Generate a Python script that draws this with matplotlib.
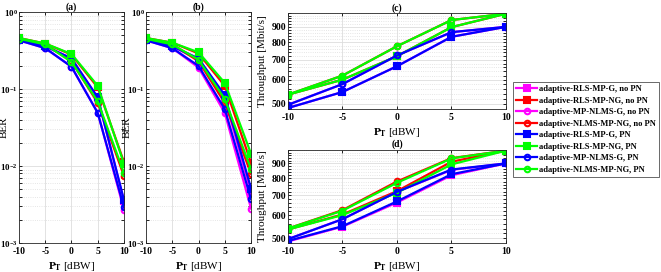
import matplotlib
matplotlib.use('Agg')
import matplotlib.pyplot as plt
from matplotlib.ticker import FixedLocator, NullFormatter

plt.rcParams['font.family'] = 'Liberation Serif'
plt.rcParams['font.weight'] = 'bold'
plt.rcParams['mathtext.fontset'] = 'custom'
plt.rcParams['mathtext.rm'] = 'Liberation Serif:bold'
plt.rcParams['mathtext.bf'] = 'Liberation Serif:bold'
plt.rcParams['mathtext.it'] = 'Liberation Serif:bold'
plt.rcParams['axes.unicode_minus'] = False

pt = [-10, -5, 0, 5, 10]

labels = ['adaptive-RLS-MP-G, no PN', 'adaptive-RLS-MP-NG, no PN',
          'adaptive-MP-NLMS-G, no PN', 'adaptive-NLMS-MP-NG, no PN',
          'adaptive-RLS-MP-G, PN', 'adaptive-RLS-MP-NG, PN',
          'adaptive-MP-NLMS-G, PN', 'adaptive-NLMS-MP-NG, PN']
colors = ['#ff00ff', '#ff0000', '#ff00ff', '#ff0000',
          '#0000ff', '#00ff00', '#0000ff', '#00ff00']
markers = ['s', 's', 'o', 'o', 's', 's', 'o', 'o']

# BER, panel (a)
ber_a = [
    [0.44, 0.36, 0.25, 0.077, 0.0035],
    [0.46, 0.39, 0.28, 0.105, 0.0112],
    [0.43, 0.34, 0.195, 0.049, 0.0027],
    [0.45, 0.38, 0.23, 0.066, 0.0074],
    [0.44, 0.36, 0.25, 0.078, 0.0036],
    [0.46, 0.39, 0.285, 0.11, 0.0107],
    [0.43, 0.34, 0.195, 0.049, 0.0029],
    [0.45, 0.38, 0.225, 0.069, 0.0081],
]
# BER, panel (b)
ber_b = [
    [0.44, 0.36, 0.24, 0.075, 0.0045],
    [0.46, 0.40, 0.29, 0.11, 0.011],
    [0.43, 0.34, 0.19, 0.049, 0.0028],
    [0.45, 0.38, 0.23, 0.066, 0.0079],
    [0.44, 0.36, 0.25, 0.083, 0.0051],
    [0.46, 0.40, 0.30, 0.12, 0.0144],
    [0.43, 0.34, 0.20, 0.055, 0.0037],
    [0.45, 0.38, 0.24, 0.074, 0.0091],
]
# throughput, panel (c)
thr_c = [
    [484, 547, 666, 834, 900],
    [536, 601, 719, 898, 995],
    [496, 581, 723, 864, 900],
    [536, 620, 776, 948, 995],
    [484, 547, 666, 834, 900],
    [536, 601, 719, 898, 995],
    [496, 581, 723, 864, 900],
    [536, 620, 776, 948, 995],
]
# throughput, panel (d)
thr_d = [
    [488, 548, 662, 820, 900],
    [536, 603, 724, 912, 995],
    [497, 581, 720, 855, 900],
    [540, 624, 781, 938, 995],
    [490, 550, 668, 827, 900],
    [536, 600, 715, 893, 995],
    [497, 581, 720, 858, 900],
    [540, 621, 773, 936, 995],
]

fig = plt.figure(figsize=(6.61, 2.72), dpi=100)
ax_a = fig.add_axes([0.0287, 0.1066, 0.1589, 0.849])
ax_b = fig.add_axes([0.2209, 0.1066, 0.1589, 0.849])
ax_c = fig.add_axes([0.4357, 0.601, 0.3298, 0.351])
ax_d = fig.add_axes([0.4357, 0.1066, 0.3298, 0.342])

xlab = r'$\mathbf{P_T}$ [dBW]'


def draw(ax, data, title):
    lines = []
    for i in range(len(data)):
        mfc = colors[i] if markers[i] == 's' else 'none'
        ln, = ax.plot(pt, data[i], color=colors[i], marker=markers[i],
                      markersize=4, markerfacecolor=mfc, markeredgewidth=1.5,
                      linewidth=1.6, label=labels[i])
        lines.append(ln)
    ax.set_title(title, fontsize=7, fontweight='bold', pad=2)
    ax.set_xlim(-10, 10)
    ax.set_xticks(pt)
    ax.set_xlabel(xlab, fontsize=8, labelpad=3)
    ax.tick_params(which='both', direction='in', top=True, right=True,
                   labelsize=7, length=2, width=0.6, pad=3)
    ax.tick_params(axis='y', which='both', pad=1.5)
    ax.grid(True, which='major', color='#dddddd', linewidth=0.6)
    ax.grid(True, which='minor', axis='y', color='#dddddd', linewidth=0.6,
            linestyle=':')
    for s in ax.spines.values():
        s.set_color('#262626')
        s.set_linewidth(0.6)
    ax.set_axisbelow(True)
    return lines


for ax, data, t, lx in [(ax_a, ber_a, '(a)', -0.10), (ax_b, ber_b, '(b)', -0.14)]:
    draw(ax, data, t)
    ax.set_yscale('log')
    ax.set_ylim(1e-3, 1)
    ax.tick_params(axis='y', which='both', labelsize=6.5, pad=1)
    ax.set_ylabel('BER', fontsize=8)
    ax.yaxis.set_label_coords(lx, 0.5)

handles = None
for ax, data, t in [(ax_c, thr_c, '(c)'), (ax_d, thr_d, '(d)')]:
    handles = draw(ax, data, t)
    ax.set_yscale('log')
    ax.set_ylim(482, 1000)
    ax.yaxis.set_major_locator(FixedLocator([500, 600, 700, 800, 900]))
    ax.set_yticklabels(['500', '600', '700', '800', '900'])
    ax.yaxis.set_minor_locator(FixedLocator(list(range(480, 1001, 20))))
    ax.yaxis.set_minor_formatter(NullFormatter())
    ax.set_ylabel('Throughput [Mbit/s]', fontsize=8)
    ax.yaxis.set_label_coords(-0.095, 0.5)

leg = fig.legend(handles, labels, loc='upper left',
                 bbox_to_anchor=(513 / 661, 1 - 82 / 272),
                 fontsize=6.1, frameon=True, fancybox=False,
                 handlelength=2.5, handletextpad=0.2, labelspacing=0.42,
                 borderpad=0.35, borderaxespad=0)
leg.get_frame().set_edgecolor('#262626')
leg.get_frame().set_linewidth(0.6)

fig.savefig('out.png', dpi=100)
